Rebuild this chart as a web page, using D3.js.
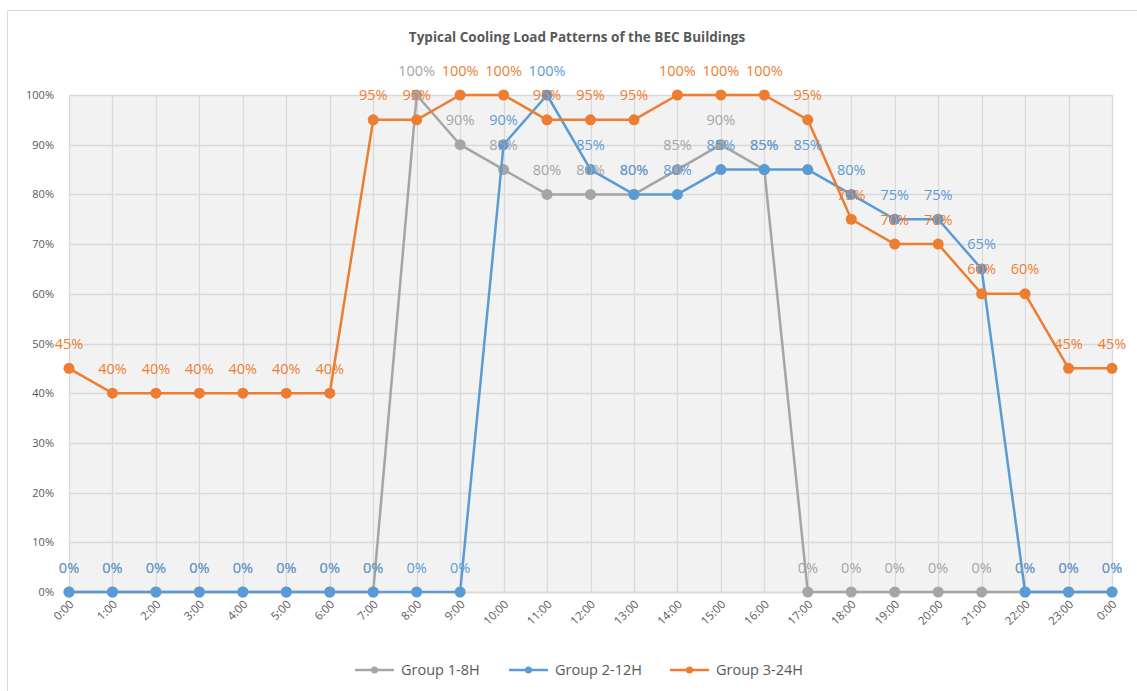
<!DOCTYPE html>
<html>
<head>
<meta charset="utf-8">
<script src="https://cdn.jsdelivr.net/npm/d3@7"></script>
<style>
  body { margin: 0; background: #fff; }
  svg { display: block; font-family: "Open Sans", "Liberation Sans", sans-serif; }
</style>
</head>
<body>
<svg id="chart"></svg>
<script>
// hours on the category axis
const hours = ["0:00","1:00","2:00","3:00","4:00","5:00","6:00","7:00","8:00","9:00","10:00","11:00","12:00",
  "13:00","14:00","15:00","16:00","17:00","18:00","19:00","20:00","21:00","22:00","23:00","0:00 "];

const group1 = [0,0,0,0,0,0,0,0,100,90,85,80,80,80,85,90,85,0,0,0,0,0,0,0,0];
const group2 = [0,0,0,0,0,0,0,0,0,0,90,100,85,80,80,85,85,85,80,75,75,65,0,0,0];
const group3 = [45,40,40,40,40,40,40,95,95,100,100,95,95,95,100,100,100,95,75,70,70,60,60,45,45];

const yTicks = [0,10,20,30,40,50,60,70,80,90,100];

const seriesNames = ["Group 1-8H", "Group 2-12H", "Group 3-24H"];
const seriesColors = ["#a5a5a5", "#5b9bd5", "#ed7d31"];
const seriesValues = [group1, group2, group3];

const width = 1137, height = 691;
const margin = { top: 95, right: 25, bottom: 99, left: 69 };
const plotW = width - margin.left - margin.right;
const plotH = height - margin.top - margin.bottom;

const svg = d3.select("#chart").attr("width", width).attr("height", height);

// chart area border
svg.append("rect")
    .attr("x", 7.5).attr("y", 10.5)
    .attr("width", width + 10).attr("height", height + 10)
    .attr("fill", "#fff").attr("stroke", "#d9d9d9");

svg.append("text")
    .attr("x", 577).attr("y", 42)
    .attr("text-anchor", "middle")
    .attr("font-size", 13.5).attr("font-weight", "bold")
    .attr("fill", "#595959")
    .text("Typical Cooling Load Patterns of the BEC Buildings");

const x = d3.scalePoint().domain(hours).range([0, plotW]);
const y = d3.scaleLinear().domain([0, 100]).range([plotH, 0]);

const g = svg.append("g")
    .attr("transform", "translate(" + margin.left + "," + margin.top + ")");

g.append("rect")
    .attr("width", plotW).attr("height", plotH)
    .attr("fill", "#f2f2f2");

// gridlines
g.append("g").selectAll("line")
    .data(yTicks)
    .join("line")
    .attr("x1", 0).attr("x2", plotW)
    .attr("y1", d => Math.round(y(d)) + 0.5).attr("y2", d => Math.round(y(d)) + 0.5)
    .attr("stroke", "#d9d9d9").attr("stroke-width", 1.3);

g.append("g").selectAll("line")
    .data(hours)
    .join("line")
    .attr("x1", d => Math.round(x(d)) + 0.5).attr("x2", d => Math.round(x(d)) + 0.5)
    .attr("y1", 0).attr("y2", plotH)
    .attr("stroke", "#d9d9d9").attr("stroke-width", 1.3);

// y axis
const yAxis = g.append("g")
    .call(d3.axisLeft(y).tickValues(yTicks).tickFormat(d => d + "%").tickSize(0).tickPadding(15));
yAxis.select(".domain").remove();
yAxis.selectAll("text")
    .attr("font-family", "'Open Sans', sans-serif")
    .attr("font-size", 11).attr("fill", "#595959");

// x axis
const xAxis = g.append("g")
    .attr("transform", "translate(0," + plotH + ")")
    .call(d3.axisBottom(x).tickSize(0).tickPadding(0));
xAxis.select(".domain").attr("stroke", "#d9d9d9").attr("stroke-width", 1.3);
xAxis.selectAll("text")
    .attr("font-family", "'Open Sans', sans-serif")
    .attr("font-size", 11.5).attr("fill", "#595959")
    .attr("text-anchor", "end")
    .attr("dy", 0)
    .attr("transform", "translate(5,13) rotate(-45)")
    .text(d => d.trim());

const line = d3.line()
    .x((d, i) => x(hours[i]))
    .y(d => y(d));

seriesValues.forEach((vals, s) => {
    const sg = g.append("g");
    sg.append("path")
        .datum(vals)
        .attr("fill", "none")
        .attr("stroke", seriesColors[s])
        .attr("stroke-width", 2.5)
        .attr("stroke-linejoin", "round")
        .attr("d", line);
    sg.selectAll("circle")
        .data(vals)
        .join("circle")
        .attr("cx", (d, i) => x(hours[i]))
        .attr("cy", d => y(d))
        .attr("r", 5.5)
        .attr("fill", seriesColors[s]);
});

// data labels above all lines
seriesValues.forEach((vals, s) => {
    g.append("g").selectAll("text")
        .data(vals)
        .join("text")
        .attr("x", (d, i) => x(hours[i]))
        .attr("y", d => y(d) - 19.5)
        .attr("text-anchor", "middle")
        .attr("font-size", 14.5)
        .attr("fill", seriesColors[s])
        .text(d => d + "%");
});

// legend
const legendX = [355, 509, 670];
const legend = svg.append("g");
seriesNames.forEach((name, s) => {
    const lg = legend.append("g").attr("transform", "translate(" + legendX[s] + ",670)");
    lg.append("line")
        .attr("x1", 0).attr("x2", 39)
        .attr("stroke", seriesColors[s]).attr("stroke-width", 2.5);
    lg.append("circle").attr("cx", 19.5).attr("r", 3.5).attr("fill", seriesColors[s]);
    lg.append("text")
        .attr("x", 46).attr("y", 5)
        .attr("font-size", 14.5).attr("fill", "#595959")
        .text(name);
});
</script>
</body>
</html>
